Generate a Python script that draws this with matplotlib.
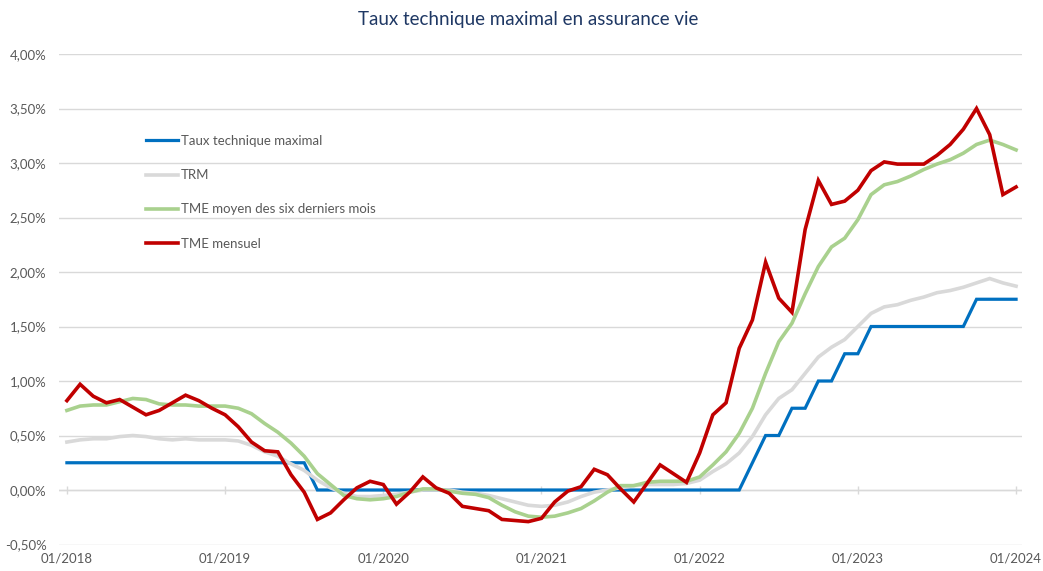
import matplotlib
matplotlib.use("Agg")
import matplotlib.pyplot as plt
import numpy as np
import pandas as pd

plt.rcParams['font.family'] = ['Lato', 'DejaVu Sans']

months = pd.date_range("2018-01-01", "2024-01-01", freq="MS")

taux_technique = [0.25] * 19 + [0.0] * 33 + [0.25, 0.5, 0.5, 0.75, 0.75, 1.0, 1.0, 1.25, 1.25] + [1.5] * 8 + [1.75] * 4

trm = [0.44, 0.46, 0.47, 0.47, 0.49, 0.50, 0.49, 0.47, 0.46, 0.47, 0.46, 0.46,
       0.46, 0.45, 0.41, 0.35, 0.31, 0.24, 0.18, 0.09, 0.02, -0.03, -0.06, -0.06,
       -0.05, -0.04, -0.02, 0.00, 0.00, 0.00, -0.02, -0.03, -0.05, -0.08, -0.11, -0.14,
       -0.15, -0.14, -0.11, -0.06, -0.02, 0.00, 0.02, 0.04, 0.05, 0.05, 0.05, 0.06,
       0.09, 0.17, 0.24, 0.34, 0.49, 0.69, 0.84, 0.92, 1.07, 1.22, 1.31, 1.38,
       1.50, 1.62, 1.68, 1.70, 1.74, 1.77, 1.81, 1.83, 1.86, 1.90, 1.94, 1.90,
       1.87]

tme_moyen = [0.73, 0.77, 0.78, 0.78, 0.81, 0.84, 0.83, 0.79, 0.78, 0.78, 0.77, 0.77,
             0.77, 0.75, 0.70, 0.61, 0.53, 0.43, 0.31, 0.15, 0.05, -0.05, -0.08, -0.09,
             -0.08, -0.06, -0.02, 0.01, 0.01, -0.01, -0.03, -0.04, -0.07, -0.14, -0.20, -0.24,
             -0.25, -0.24, -0.21, -0.17, -0.10, -0.02, 0.04, 0.04, 0.07, 0.08, 0.08, 0.08,
             0.12, 0.23, 0.35, 0.52, 0.75, 1.07, 1.36, 1.53, 1.80, 2.05, 2.23, 2.31,
             2.48, 2.71, 2.80, 2.83, 2.88, 2.94, 2.99, 3.03, 3.09, 3.17, 3.21, 3.17,
             3.12]

tme_mensuel = [0.82, 0.97, 0.86, 0.80, 0.83, 0.76, 0.69, 0.73, 0.80, 0.87, 0.82, 0.75,
               0.69, 0.58, 0.44, 0.36, 0.35, 0.14, -0.02, -0.27, -0.21, -0.09, 0.02, 0.08,
               0.05, -0.13, -0.02, 0.12, 0.02, -0.03, -0.15, -0.17, -0.19, -0.27, -0.28, -0.29,
               -0.26, -0.11, -0.01, 0.03, 0.19, 0.14, 0.01, -0.11, 0.06, 0.23, 0.15, 0.07,
               0.34, 0.69, 0.80, 1.30, 1.56, 2.09, 1.76, 1.63, 2.39, 2.84, 2.62, 2.65,
               2.75, 2.93, 3.01, 2.99, 2.99, 2.99, 3.07, 3.17, 3.31, 3.50, 3.26, 2.71,
               2.78]

series_names = ["Taux technique maximal", "TRM", "TME moyen des six derniers mois", "TME mensuel"]
series_colors = ["#0070C0", "#D9D9D9", "#A9D18E", "#C00000"]

y_ticks = [-0.5, 0.0, 0.5, 1.0, 1.5, 2.0, 2.5, 3.0, 3.5, 4.0]
y_labels = ["-0,50%", "0,00%", "0,50%", "1,00%", "1,50%", "2,00%", "2,50%", "3,00%", "3,50%", "4,00%"]
x_tick_labels = ["01/2018", "01/2019", "01/2020", "01/2021", "01/2022", "01/2023", "01/2024"]

W, H = 1043, 571
fig = plt.figure(figsize=(W / 100, H / 100), dpi=100)
ax = fig.add_axes([59 / W, 1 - 544.5 / H, (1022 - 59) / W, (544.5 - 54) / H])

x = np.arange(len(months))
all_series = [taux_technique, trm, tme_moyen, tme_mensuel]
widths = [2.3, 2.6, 2.6, 2.6]
for vals, name, col, lw in zip(all_series, series_names, series_colors, widths):
    ax.plot(x, vals, color=col, lw=lw, label=name, solid_joinstyle='miter', zorder=3)

ax.set_xlim(-0.6, 72.45)
ax.set_ylim(-0.5, 4.0)
ax.set_yticks(y_ticks)
ax.set_yticklabels(y_labels)
ax.yaxis.grid(True, color="#D9D9D9", lw=1.0, zorder=0)
ax.set_axisbelow(True)

tick_pos = [i for i, m in enumerate(months) if m.month == 1]
ax.set_xticks(tick_pos)
ax.set_xticklabels(x_tick_labels)

# category axis crossing at 0 with small tick marks
ax.axhline(0, color="#D9D9D9", lw=1.0, zorder=1)
ax.vlines(tick_pos, -0.035, 0.035, color="#D9D9D9", lw=1.0, zorder=1)

for s in ax.spines.values():
    s.set_visible(False)
ax.tick_params(axis='both', length=0, colors="#595959", labelsize=9.5)
ax.tick_params(axis='y', pad=9)
ax.tick_params(axis='x', pad=6)

fig.text(528 / W, 1 - 20 / H, "Taux technique maximal en assurance vie",
         ha='center', va='center', fontsize=13.5, color="#1F3864")

leg = ax.legend(loc='upper left', bbox_to_anchor=(146 / W, 1 - 135 / H),
                bbox_transform=fig.transFigure, frameon=False, fontsize=9.5,
                handlelength=2.45, handletextpad=0.2, labelspacing=1.68,
                borderpad=0, borderaxespad=0)
for t in leg.get_texts():
    t.set_color("#595959")

fig.savefig("out.png", dpi=100, facecolor="white")
